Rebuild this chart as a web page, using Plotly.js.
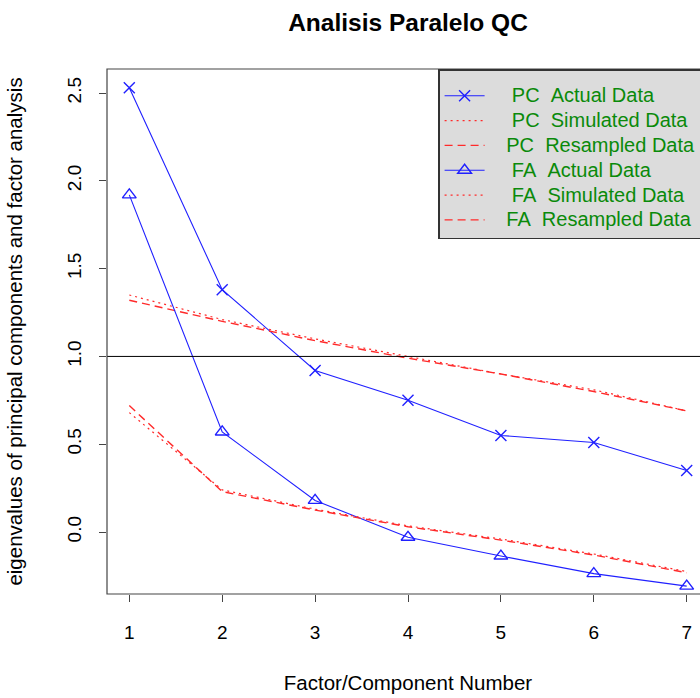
<!DOCTYPE html>
<html>
<head>
<meta charset="utf-8">
<script src="https://cdn.plot.ly/plotly-3.0.1.min.js"></script>
<style>html,body{margin:0;padding:0;background:#fff;overflow:hidden;width:700px;height:698px;}#chart{width:712px;height:698px;}</style>
</head>
<body>
<div id="chart"></div>
<script>
const factorNumber = [1, 2, 3, 4, 5, 6, 7];
const pcActual = [2.53, 1.38, 0.92, 0.75, 0.55, 0.51, 0.35];
const pcSimulated = [1.35, 1.21, 1.10, 1.00, 0.90, 0.81, 0.69];
const pcResampled = [1.32, 1.20, 1.09, 0.99, 0.90, 0.80, 0.69];
const faActual = [1.92, 0.57, 0.18, -0.03, -0.137, -0.237, -0.308];
const faSimulated = [0.68, 0.24, 0.13, 0.035, -0.04, -0.125, -0.225];
const faResampled = [0.72, 0.23, 0.125, 0.03, -0.046, -0.131, -0.232];
const legendNames = ["  PC  Actual Data", "  PC  Simulated Data", " PC  Resampled Data",
                     "  FA  Actual Data", "  FA  Simulated Data", " FA  Resampled Data"];
const yTickVals = [0, 0.5, 1, 1.5, 2, 2.5];
const yTickText = ["0.0", "0.5", "1.0", "1.5", "2.0", "2.5"];
const refLine = 1;

// legend label: extra leading gap, larger glyphs than the row spacing font
const lg = s => '<span style="font-size:20px">' + ("  " + s).replace(/ /g, "\u00a0") + '</span>';
const blue = "#2020ff", red = "#ff2a2a";
const traces = [
  {x: factorNumber, y: pcActual, name: lg(legendNames[0]), mode: "lines+markers",
   line: {color: blue, width: 1.1}, marker: {symbol: "x-thin-open", size: 11, color: blue, line: {color: blue, width: 1.4}}},
  {x: factorNumber, y: pcSimulated, name: lg(legendNames[1]), mode: "lines",
   line: {color: red, width: 1.2, dash: "2px,4px"}},
  {x: factorNumber, y: pcResampled, name: lg(legendNames[2]), mode: "lines",
   line: {color: red, width: 1.4, dash: "8px,5px"}},
  {x: factorNumber, y: faActual, name: lg(legendNames[3]), mode: "lines+markers",
   line: {color: blue, width: 1.1}, marker: {symbol: "triangle-up-open", size: 12, color: blue, line: {color: blue, width: 1.4}}},
  {x: factorNumber, y: faSimulated, name: lg(legendNames[4]), mode: "lines",
   line: {color: red, width: 1.2, dash: "2px,4px"}},
  {x: factorNumber, y: faResampled, name: lg(legendNames[5]), mode: "lines",
   line: {color: red, width: 1.4, dash: "8px,5px"}}
];

const font = "Liberation Sans, Arial, Helvetica, sans-serif";
const layout = {
  width: 712, height: 698,
  margin: {l: 107, r: 3, t: 69, b: 104},
  paper_bgcolor: "#fff", plot_bgcolor: "#fff",
  font: {family: font, size: 20, color: "#000"},
  title: {text: "<b>Analisis Paralelo QC</b>", x: 0.5, xref: "paper", xanchor: "center",
    y: 0.968, yref: "container", yanchor: "middle", font: {size: 24.5, family: font}},
  xaxis: {range: [0.76, 7.24], tickvals: factorNumber, ticktext: factorNumber.map(String),
    showgrid: false, zeroline: false, showline: false, ticks: "outside", ticklen: 7, tickcolor: "#444",
    tickfont: {size: 19}, ticklabelstandoff: 14,
    title: {text: "Factor/Component Number", standoff: 33, font: {size: 20.5}}},
  yaxis: {range: [-0.353, 2.637], tickvals: yTickVals, ticktext: yTickText,
    showgrid: false, zeroline: false, showline: false, ticks: "outside", ticklen: 7, tickcolor: "#444",
    tickangle: -90, tickfont: {size: 19}, ticklabelstandoff: 10,
    title: {text: "eigenvalues of principal components and factor analysis", standoff: 36, font: {size: 20.5}}},
  legend: {x: 0.55, xanchor: "left", y: 1, yanchor: "top", bgcolor: "#dcdcdc", bordercolor: "#333", borderwidth: 1.5,
    font: {size: 16.8, color: "#0a8a0a", family: font}, tracegroupgap: 0, itemwidth: 40,
    title: {text: "\u00a0", font: {size: 6}}},
  shapes: [
    {type: "line", xref: "paper", yref: "y", x0: 0, x1: 1, y0: refLine, y1: refLine, line: {color: "#000", width: 1}},
    {type: "rect", xref: "paper", yref: "paper", x0: 0, x1: 1, y0: 0, y1: 1, line: {color: "#444", width: 1.2}}
  ],
  showlegend: true
};
Plotly.newPlot("chart", traces, layout, {displayModeBar: false, staticPlot: true});
</script>
</body>
</html>
